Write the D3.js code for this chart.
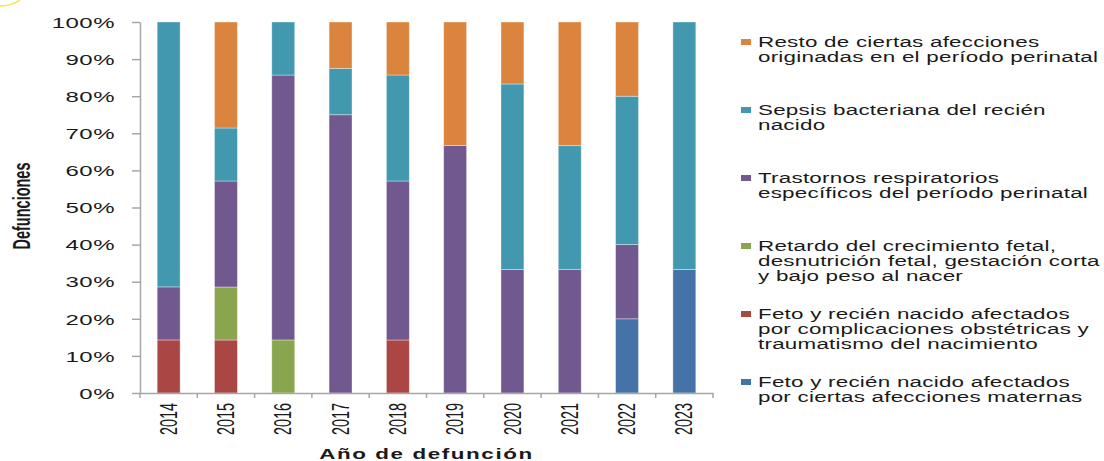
<!DOCTYPE html>
<html><head><meta charset="utf-8">
<script src="https://cdn.jsdelivr.net/npm/d3@7"></script>
<style>
body{margin:0;background:#fff;}
svg{display:block;}
text{font-family:"Liberation Sans",Arial,sans-serif;fill:#1a1a1a;}
</style></head>
<body>
<svg id="chart" width="1104" height="461"></svg>
<script>
const years = ["2014","2015","2016","2017","2018","2019","2020","2021","2022","2023"];
// Percent values per series (bottom to top of stack)
const maternas       = [0, 0, 0, 0, 0, 0, 0, 0, 20, 33.3];
const complicaciones = [14.3, 14.3, 0, 0, 14.3, 0, 0, 0, 0, 0];
const retardo        = [0, 14.3, 14.3, 0, 0, 0, 0, 0, 0, 0];
const trastornos     = [14.3, 28.6, 71.4, 75, 42.9, 66.7, 33.3, 33.3, 20, 0];
const sepsis         = [71.4, 14.3, 14.3, 12.5, 28.6, 0, 50, 33.3, 40, 66.7];
const resto          = [0, 28.6, 0, 12.5, 14.3, 33.3, 16.7, 33.3, 20, 0];
const yTicks = [0, 0.1, 0.2, 0.3, 0.4, 0.5, 0.6, 0.7, 0.8, 0.9, 1];

const seriesKeys = ["maternas","complicaciones","retardo","trastornos","sepsis","resto"];
const seriesValues = {maternas, complicaciones, retardo, trastornos, sepsis, resto};
const seriesColors = {maternas:"#4572a7", complicaciones:"#aa4643", retardo:"#89a54e",
  trastornos:"#71588f", sepsis:"#4198af", resto:"#db843d"};
const legendLabels = {
  resto:["Resto de ciertas afecciones","originadas en el período perinatal"],
  sepsis:["Sepsis bacteriana del recién","nacido"],
  trastornos:["Trastornos respiratorios","específicos del período perinatal"],
  retardo:["Retardo del crecimiento fetal,","desnutrición fetal, gestación corta","y bajo peso al nacer"],
  complicaciones:["Feto y recién nacido afectados","por complicaciones obstétricas y","traumatismo del nacimiento"],
  maternas:["Feto y recién nacido afectados","por ciertas afecciones maternas"]
};
const legendOrder = ["resto","sepsis","trastornos","retardo","complicaciones","maternas"];

const SX = 1.6;
const svg = d3.select("#chart");
const m = {left:140, top:22};
const W = 573, H = 371;

const table = years.map((y,i)=>{
  const o = {year:y};
  seriesKeys.forEach(k=>o[k]=seriesValues[k][i]);
  return o;
});
const stacked = d3.stack().keys(seriesKeys).offset(d3.stackOffsetExpand)(table);

const x = d3.scaleBand().domain(years).range([0,W]).paddingInner(0.6).paddingOuter(0.3);
const y = d3.scaleLinear().domain([0,1]).range([H,0]);

const g = svg.append("g").attr("transform",`translate(${m.left},${m.top})`);

// bars
g.selectAll("g.series").data(stacked).join("g")
  .attr("fill", d=>seriesColors[d.key])
  .selectAll("rect").data(d=>d).join("rect")
  .attr("x", d=>x(d.data.year))
  .attr("width", x.bandwidth())
  .attr("y", d=>y(d[1]))
  .attr("height", d=>Math.max(0, y(d[0])-y(d[1])))
  .attr("stroke", "rgba(255,255,255,0.45)")
  .attr("stroke-width", 0.8);

// y axis
const yAxis = g.append("g").call(d3.axisLeft(y).tickValues(yTicks).tickFormat(d3.format(".0%")).tickSizeInner(8).tickSizeOuter(0));
yAxis.select(".domain").attr("stroke","#a6a6a6").attr("stroke-width",1.5);
yAxis.selectAll(".tick line").attr("stroke","#a6a6a6").attr("stroke-width",1.5);
yAxis.selectAll(".tick text")
  .attr("x",0).attr("dy","0.35em")
  .attr("transform",`translate(-25,0) scale(${SX},1)`)
  .attr("text-anchor","end")
  .style("font-size","15px").style("letter-spacing","0.3px")
  .style("font-family","'Liberation Sans',Arial,sans-serif").attr("fill","#1a1a1a");

// x axis
const xAxis = g.append("g").attr("transform",`translate(0,${H})`)
  .call(d3.axisBottom(x).tickSize(0).tickPadding(0));
xAxis.select(".domain").attr("stroke","#a6a6a6").attr("stroke-width",1.5);
xAxis.selectAll(".tick text")
  .attr("y",0).attr("x",0).attr("dy","0.35em")
  .attr("transform",`translate(0,10) scale(${SX},1) rotate(-90)`)
  .attr("text-anchor","end")
  .style("font-size","14.4px")
  .style("font-family","'Liberation Sans',Arial,sans-serif").attr("fill","#1a1a1a");
// boundary ticks
const bounds = years.map(yv=>x(yv)-x.step()*x.paddingInner()/2).concat([W]);
bounds[0]=0;
xAxis.selectAll("line.bt").data(bounds).join("line").attr("class","bt")
  .attr("x1",d=>d).attr("x2",d=>d).attr("y1",0).attr("y2",5)
  .attr("stroke","#a6a6a6").attr("stroke-width",1.5);

// axis titles
svg.append("text")
  .attr("transform",`translate(${m.left+W/2},459) scale(${SX},1)`)
  .attr("text-anchor","middle")
  .style("font-size","14px").style("font-weight","bold").style("letter-spacing","1px")
  .text("Año de defunción");
svg.append("text")
  .attr("transform",`translate(22,206) scale(${SX},1) rotate(-90)`)
  .attr("text-anchor","middle").attr("dy","0.35em")
  .style("font-size","14.5px").style("font-weight","bold")
  .text("Defunciones");

// legend
const leg = svg.append("g");
legendOrder.forEach((k,i)=>{
  const cy = 42 + i*68;
  leg.append("rect").attr("x",741).attr("y",cy-3).attr("width",10).attr("height",6)
    .attr("fill",seriesColors[k]);
  legendLabels[k].forEach((line,j)=>{
    leg.append("text")
      .attr("transform",`translate(758,${cy+5+j*15}) scale(${SX},1)`)
      .style("font-size","14px").style("letter-spacing","0.15px")
      .text(line);
  });
});

// small yellow mark at top-left corner (as in reference)
svg.append("path").attr("d","M0,6 Q12,6 20,0").attr("fill","none")
  .attr("stroke","#f5e642").attr("stroke-width",1.5);
</script>
</body></html>
